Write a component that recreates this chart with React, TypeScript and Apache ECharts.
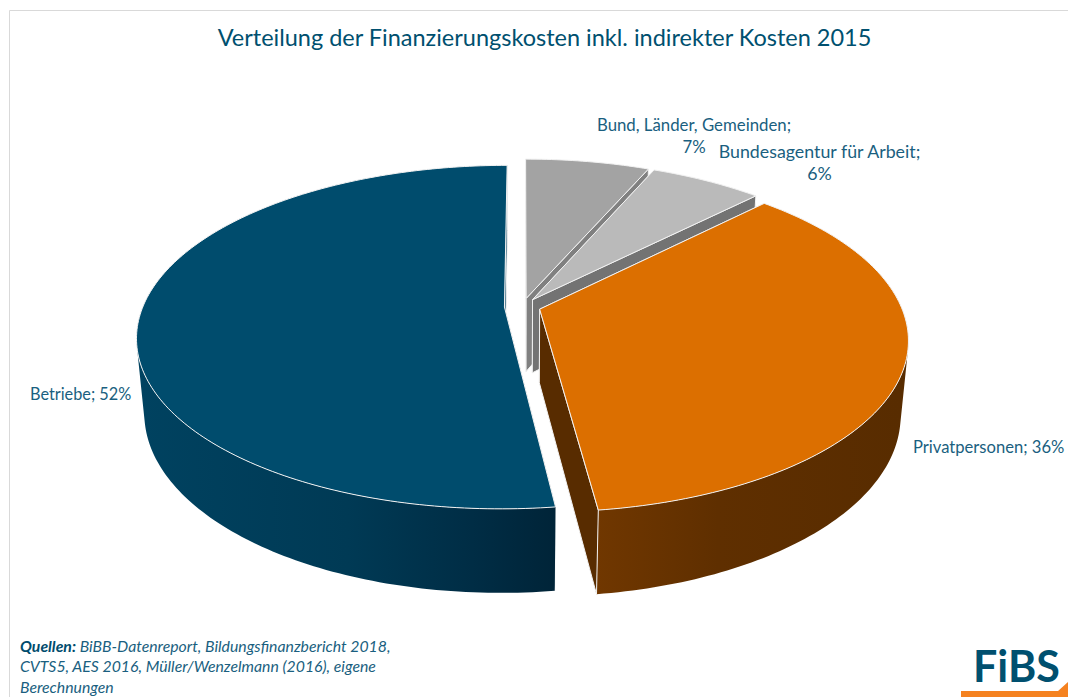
import React, { useEffect, useRef } from "react";
import * as echarts from "echarts";

const categories = ["Bund, Länder, Gemeinden", "Bundesagentur für Arbeit", "Privatpersonen", "Betriebe"];
// Estimated unrounded shares in percent, clockwise from the top
const shares = [6.5, 5.9, 35.6, 52.0];
const titleText = "Verteilung der Finanzierungskosten inkl. indirekter Kosten 2015";
const sourceLines = [
  "{q|Quellen:} BiBB-Datenreport, Bildungsfinanzbericht 2018,",
  "CVTS5, AES 2016, Müller/Wenzelmann (2016), eigene",
  "Berechnungen",
];
const FONT = "Lato, 'Noto Sans', sans-serif";
const TEXT = "#1a5f80";
const styles = [
  { top: "#a3a3a3", wall: "#808080", inner: "#808080" },
  { top: "#bababa", wall: "#737373", inner: "#737373" },
  { top: "#dc6f00", wall: ["#703700", "#5f2f00", "#582c00"], inner: "#582c00" },
  { top: "#004c6d", wall: ["#004260", "#003a55", "#002d45", "#002438"], inner: "#003f5c" },
];
const wallStops = [
  [],
  [],
  [0, 0.4, 1],
  [0, 0.5, 0.8, 1],
];
const labelPos = [
  { x: 694, y: 135, align: "center", size: 16.8 },
  { x: 819.5, y: 162, align: "center", size: 17.8 },
  { x: 913, y: 447, align: "left", size: 16.6 },
  { x: 30, y: 393, align: "left", size: 16.3 },
];

// Projection of the pie disc (perspective view from above)
const CX = 522.5, CY = 306.5, A = 361.5, B = 166.3, K = 0.175, M = 0.02, D = 75, EXPLODE = 0.05;
const rad = (d: number) => (d * Math.PI) / 180;
function project(X: number, Y: number, bottom: boolean) {
  const w = 1 + K * Y + (bottom ? M : 0);
  return [CX + (A * X) / w, CY + (-B * Y + (bottom ? D : 0)) / w];
}

function renderItem(params: any) {
  const i = params.dataIndex;
  const total = shares.reduce((a, b) => a + b, 0);
  const before = shares.slice(0, i).reduce((a, b) => a + b, 0);
  const a0 = (before / total) * 360;
  const a1 = ((before + shares[i]) / total) * 360;
  const mid = rad((a0 + a1) / 2);
  const ox = EXPLODE * Math.sin(mid), oy = EXPLODE * Math.cos(mid);
  const arc = (bottom: boolean) => {
    const pts: number[][] = [];
    const n = Math.max(2, Math.ceil(a1 - a0));
    for (let j = 0; j <= n; j++) {
      const t = rad(a0 + ((a1 - a0) * j) / n);
      pts.push(project(ox + Math.sin(t), oy + Math.cos(t), bottom));
    }
    return pts;
  };
  const topArc = arc(false), botArc = arc(true);
  const tipTop = project(ox, oy, false), tipBot = project(ox, oy, true);
  const s = styles[i];
  const line = { stroke: "#f2f2f2", lineWidth: 1 };
  const poly = (points: number[][], fill: any, st: any = line) => ({
    type: "polygon",
    shape: { points },
    style: { fill, ...st },
    silent: true,
  });
  const first = topArc[0], last = topArc[topArc.length - 1];
  const firstB = botArc[0], lastB = botArc[botArc.length - 1];
  const wallFill = Array.isArray(s.wall)
    ? {
        type: "linear", global: true,
        x: i === 3 ? 140 : 597, y: 0, x2: i === 3 ? 555 : 900, y2: 0,
        colorStops: s.wall.map((c: string, k: number) => ({ offset: wallStops[i][k], color: c })),
      }
    : s.wall;
  // Keep only the part of the rim whose wall faces the viewer; the wall's closing
  // edges are then the straight silhouette between the top and the bottom rim.
  const facing: number[] = [];
  for (let j = 0; j < topArc.length - 1; j++) {
    const vx = botArc[j][0] - topArc[j][0], vy = botArc[j][1] - topArc[j][1];
    const dx = topArc[j + 1][0] - topArc[j][0], dy = topArc[j + 1][1] - topArc[j][1];
    if (vx * dy - vy * dx > 0) facing.push(j);
  }
  const wall: any[] = [];
  if (facing.length) {
    const from = facing[0], to = facing[facing.length - 1] + 2;
    wall.push(
      poly([...topArc.slice(from, to), ...botArc.slice(from, to).reverse()], wallFill, { stroke: "none" })
    );
  }
  const children: any[] = [
    poly([tipTop, first, firstB, tipBot], s.inner),
    ...wall,
    poly([tipTop, last, lastB, tipBot], s.inner),
    poly([tipTop, ...topArc], s.top),
  ];
  return { type: "group", children };
}

export default function App() {
  const ref = useRef<HTMLDivElement>(null);
  useEffect(() => {
    const chart = echarts.init(ref.current!, null, { renderer: "svg" });
    const labels = categories.map((c, i) => ({
      type: "text",
      z: 10,
      x: labelPos[i].x,
      y: labelPos[i].y,
      style: {
        text: i < 2 ? `${c};\n${Math.round(shares[i])}%` : `${c}; ${Math.round(shares[i])}%`,
        font: `400 ${labelPos[i].size}px ${FONT}`,
        fill: TEXT,
        align: labelPos[i].align,
        verticalAlign: "middle",
        lineHeight: 22,
      },
    }));
    chart.setOption({
      animation: false,
      backgroundColor: "#ffffff",
      title: {
        text: titleText,
        left: 539.5,
        top: 20,
        textAlign: "center",
        textStyle: { color: "#00506f", fontFamily: FONT, fontWeight: 400, fontSize: 23.5 },
      },
      series: [
        {
          type: "custom",
          coordinateSystem: "none",
          silent: true,
          clip: false,
          renderItem,
          data: categories.map((name, i) => ({ name, value: shares[i] })),
        },
      ],
      graphic: [
        { type: "line", shape: { x1: 9.5, y1: 10.5, x2: 1068, y2: 10.5 }, style: { stroke: "#d9d9d9", lineWidth: 1 } },
        { type: "line", shape: { x1: 9.5, y1: 10.5, x2: 9.5, y2: 697 }, style: { stroke: "#d9d9d9", lineWidth: 1 } },
        ...labels,
        {
          type: "text",
          x: 20,
          y: 635,
          style: {
            text: sourceLines.join("\n"),
            font: `italic 400 15.8px ${FONT}`,
            fill: TEXT,
            lineHeight: 20.5,
            rich: { q: { fontWeight: "bold", fontStyle: "italic", fill: "#004c6d", fontSize: 15.8, fontFamily: "Lato", lineHeight: 20.5 } },
          },
        },
        {
          type: "text",
          x: 973,
          y: 665,
          style: { text: "FiBS", font: `700 43px ${FONT}`, fill: "#00506f", verticalAlign: "middle" },
        },
        {
          type: "polygon",
          shape: { points: [[961, 697], [961, 691], [1058, 691], [1068, 682], [1068, 697]] },
          style: { fill: "#f58220" },
        },
      ],
    });
    return () => chart.dispose();
  }, []);
  return <div ref={ref} style={{ position: "absolute", left: 0, top: 0, width: 1068, height: 697 }} />;
}
